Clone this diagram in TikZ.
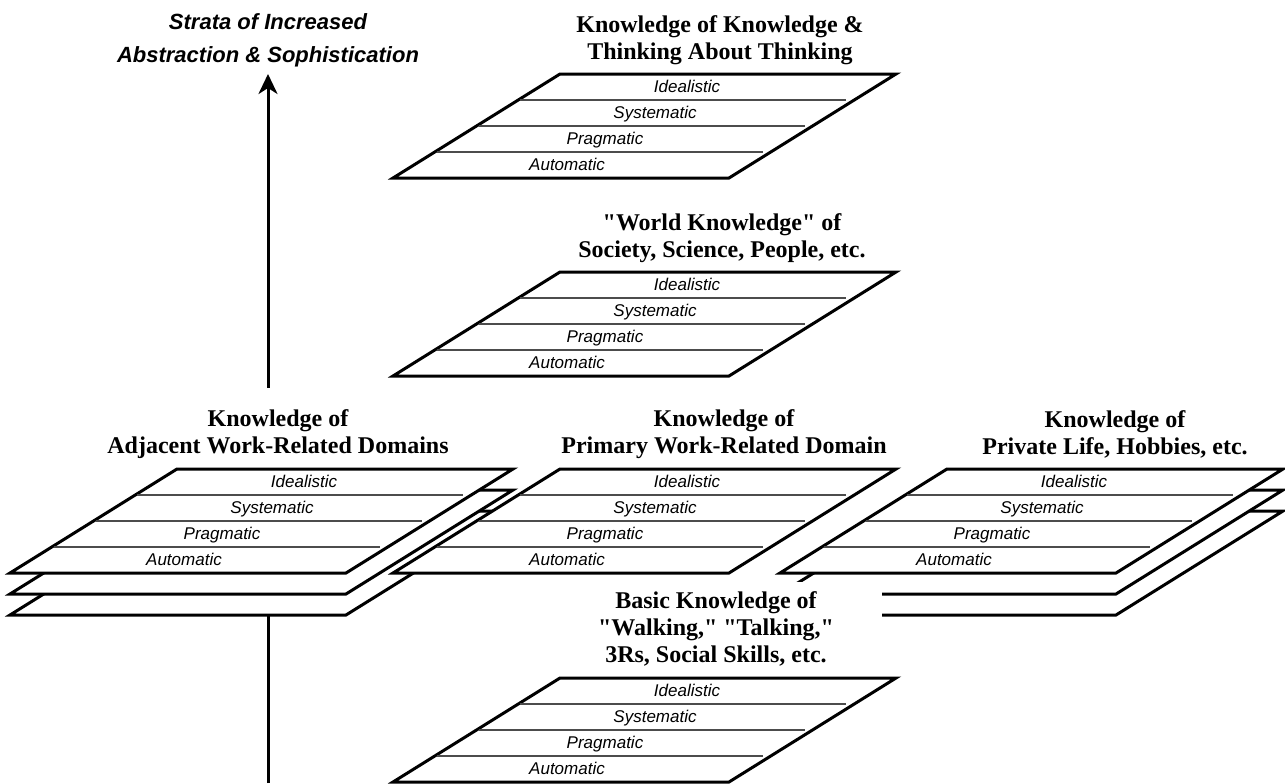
\documentclass[tikz,border=0pt]{standalone}
\usepackage{fontspec}
\setmainfont{Liberation Serif}[Ligatures=TeXOff]
\setsansfont{Liberation Sans}
\usetikzlibrary{arrows.meta}

\tikzset{
  slab edge/.style={line width=1.5pt, fill=white},
  layer line/.style={line width=0.6pt, black!70},
  layer label/.style={font=\sffamily\itshape\fontsize{8.5}{10}\selectfont,
    inner sep=0pt, anchor=base},
  stratum title/.style={font=\bfseries\fontsize{12}{13.5}\selectfont,
    align=center, fill=white, inner sep=3pt},
  strata arrow/.style={line width=1.5pt,
    -{Stealth[length=10pt, width=9.5pt, inset=3pt]}},
  back slab/.pic={
    \draw[slab edge] (0,0) -- (336,0) -- (503,-104) -- (167,-104) -- cycle;
  },
  front slab/.pic={
    \draw[slab edge] (0,0) -- (336,0) -- (503,-104) -- (167,-104) -- cycle;
    \foreach \k in {1,2,3}
      \draw[layer line] ({41.75*\k+2},{-26*\k}) -- ({328+41.75*\k},{-26*\k});
    \foreach \k/\lbl/\lx in {1/Automatic/174, 2/Pragmatic/212,
                             3/Systematic/262, 4/Idealistic/294}
      \node[layer label] (-\k) at (\lx,{-8-26*(\k-1)}) {\lbl};
  }
}

\begin{document}
\begin{tikzpicture}[x=0.5pt, y=-0.5pt]
  \useasboundingbox (0,0) rectangle (1285,783);

  % ── Abstraction axis ──
  \coordinate (base) at (268,783);
  \coordinate (peak) at (268,74);
  \draw[strata arrow] (base) -- (peak);
  \node[font=\sffamily\bfseries\itshape\fontsize{11}{16.5}\selectfont, align=center]
    (axis) at (268,40) {Strata of Increased\\Abstraction \& Sophistication};

  % Stacked domains (back layers)
  \foreach \dy in {42,21} {
    \pic (adjback\dy) at (10,573+\dy) {back slab};
    \pic (privback\dy) at (780,573+\dy) {back slab};
  }

  % ── Titles ──
  \node[stratum title] (kktitle) at (720,40)
    {Knowledge of Knowledge \&\\Thinking About Thinking};
  \node[stratum title] (wktitle) at (722,238)
    {"World Knowledge" of\\Society, Science, People, etc.};
  \node[stratum title, inner ysep=11pt] (adjtitle) at (278,434)
    {Knowledge of\\Adjacent Work-Related Domains};
  \node[stratum title] (primtitle) at (724,434)
    {Knowledge of\\Primary Work-Related Domain};
  \node[stratum title] (privtitle) at (1115,434)
    {Knowledge of\\Private Life, Hobbies, etc.};
  \node[stratum title, inner xsep=24pt, inner ysep=5pt] (basictitle) at (716,629)
    {Basic Knowledge of\\"Walking," "Talking,"\\3Rs, Social Skills, etc.};

  % ── Front slabs ──
  \pic (kk) at (393,178) {front slab};
  \pic (wk) at (393,376) {front slab};
  \pic (adj) at (10,573) {front slab};
  \pic (prim) at (393,573) {front slab};
  \pic (priv) at (780,573) {front slab};
  \pic (basic) at (393,782) {front slab};

\end{tikzpicture}
\end{document}
